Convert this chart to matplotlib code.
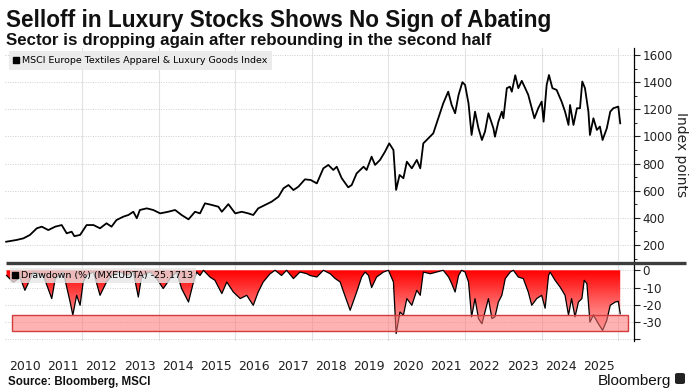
import numpy as np
import matplotlib
matplotlib.use("Agg")
import matplotlib.pyplot as plt
from matplotlib.colors import LinearSegmentedColormap
from matplotlib.lines import Line2D
from matplotlib.patches import Rectangle, FancyBboxPatch
from matplotlib.ticker import MultipleLocator, FixedLocator

# MSCI Europe Textiles Apparel & Luxury Goods Index
index_years = [
    2010.02, 2010.29, 2010.47, 2010.64, 2010.82, 2010.95, 2011.12, 2011.30, 2011.47, 2011.60,
    2011.73, 2011.80, 2011.95, 2012.12, 2012.30, 2012.47, 2012.64, 2012.77, 2012.90, 2013.08,
    2013.21, 2013.34, 2013.43, 2013.51, 2013.69, 2013.86, 2014.04, 2014.25, 2014.43, 2014.60,
    2014.78, 2014.95, 2015.08, 2015.21, 2015.39, 2015.56, 2015.65, 2015.82, 2016.00, 2016.17,
    2016.34, 2016.47, 2016.60, 2016.78, 2016.95, 2017.13, 2017.26, 2017.39, 2017.52, 2017.65,
    2017.82, 2017.97, 2018.13, 2018.30, 2018.43, 2018.56, 2018.65, 2018.78, 2018.95, 2019.04,
    2019.17, 2019.35, 2019.43, 2019.56, 2019.65, 2019.78, 2019.91, 2020.02, 2020.13, 2020.20,
    2020.29, 2020.39, 2020.48, 2020.61, 2020.74, 2020.83, 2020.91, 2021.04, 2021.17, 2021.30,
    2021.43, 2021.56, 2021.65, 2021.74, 2021.83, 2021.93, 2022.00, 2022.09, 2022.17, 2022.26,
    2022.35, 2022.44, 2022.52, 2022.61, 2022.74, 2022.78, 2022.87, 2022.96, 2023.00, 2023.09,
    2023.17, 2023.22, 2023.31, 2023.39, 2023.48, 2023.57, 2023.65, 2023.74, 2023.81, 2023.91,
    2024.00, 2024.05, 2024.13, 2024.19, 2024.28, 2024.39, 2024.52, 2024.61, 2024.70, 2024.74,
    2024.83, 2024.92, 2025.00, 2025.06, 2025.13, 2025.22, 2025.26, 2025.35, 2025.44, 2025.52,
    2025.59, 2025.70, 2025.79, 2025.87, 2026.00, 2026.05,
]
index_values = [
    224, 237, 249, 274, 323, 335, 310, 335, 347, 286,
    298, 265, 274, 347, 347, 323, 360, 335, 384, 409,
    421, 445, 397, 458, 470, 458, 433, 445, 458, 421,
    389, 445, 433, 507, 495, 482, 445, 501, 433, 445,
    433, 421, 470, 495, 519, 556, 618, 642, 605, 630,
    684, 679, 654, 765, 790, 753, 777, 692, 625, 642,
    728, 777, 753, 851, 790, 827, 888, 949, 900, 606,
    716, 692, 814, 765, 827, 765, 949, 986, 1023, 1134,
    1244, 1330, 1232, 1171, 1306, 1400, 1380, 1244, 1011, 1183,
    1060, 974, 1036, 1171, 1060, 998, 1109, 1183, 1134, 1356,
    1367, 1330, 1451, 1356, 1410, 1356, 1306, 1208, 1134, 1208,
    1257, 1109, 1380, 1453, 1356, 1343, 1257, 1183, 1085, 1232,
    1085, 1208, 1208, 1405, 1356, 1183, 1011, 1134, 1048, 1073,
    974, 1060, 1183, 1208, 1220, 1097,
]

# Drawdown (%) (MXEUDTA)
dd_years = [
    2010.03, 2010.21, 2010.38, 2010.51, 2010.73, 2010.99, 2011.21, 2011.30, 2011.51, 2011.60,
    2011.69, 2011.76, 2011.86, 2011.95, 2012.03, 2012.12, 2012.30, 2012.47, 2012.64, 2012.82,
    2012.99, 2013.17, 2013.34, 2013.47, 2013.56, 2013.78, 2013.95, 2014.12, 2014.30, 2014.47,
    2014.60, 2014.78, 2014.91, 2014.99, 2015.08, 2015.17, 2015.34, 2015.47, 2015.65, 2015.78,
    2015.95, 2016.13, 2016.30, 2016.47, 2016.60, 2016.73, 2016.91, 2017.04, 2017.21, 2017.34,
    2017.52, 2017.69, 2017.87, 2017.95, 2018.13, 2018.30, 2018.48, 2018.61, 2018.74, 2018.82,
    2019.00, 2019.17, 2019.30, 2019.39, 2019.48, 2019.56, 2019.69, 2019.87, 2020.00, 2020.13,
    2020.20, 2020.30, 2020.39, 2020.48, 2020.61, 2020.74, 2020.83, 2020.91, 2021.09, 2021.26,
    2021.43, 2021.57, 2021.65, 2021.74, 2021.83, 2021.91, 2022.00, 2022.09, 2022.17, 2022.26,
    2022.35, 2022.44, 2022.52, 2022.61, 2022.70, 2022.78, 2022.87, 2022.96, 2023.05, 2023.18,
    2023.26, 2023.39, 2023.52, 2023.65, 2023.74, 2023.87, 2024.00, 2024.09, 2024.18, 2024.22,
    2024.35, 2024.48, 2024.61, 2024.70, 2024.78, 2024.87, 2024.96, 2025.05, 2025.11, 2025.18,
    2025.26, 2025.35, 2025.48, 2025.59, 2025.70, 2025.79, 2025.92, 2026.00, 2026.05,
]
dd_values = [
    -3.0, -7.0, -4.0, -11.6, -1.0, -3.0, -16.4, -5.0, -1.0, -9.7,
    -18.4, -26.0, -14.5, -20.3, -6.8, -3.0, -1.0, -14.5, -6.8, -2.0,
    -1.0, -3.0, -1.0, -15.5, -3.0, -1.0, -4.8, -10.6, -4.8, -1.0,
    -10.6, -18.4, -6.8, -1.0, -3.0, 0.0, -3.9, -5.8, -13.5, -6.8,
    -12.6, -16.4, -14.5, -20.3, -12.6, -6.8, -2.0, 0.0, -3.0, 0.0,
    -4.8, -1.0, -2.0, -3.0, -3.9, 0.0, -2.0, -4.8, -6.8, -12.0,
    -23.2, -12.6, -3.9, -1.0, -3.0, -10.0, -3.9, -1.0, 0.0, -6.8,
    -36.7, -24.2, -26.0, -16.4, -20.3, -11.6, -14.5, -1.0, -2.0, -1.0,
    0.0, -3.9, -7.7, -12.6, -3.0, 0.0, -1.0, -6.8, -27.0, -16.4,
    -28.0, -31.0, -24.2, -16.4, -28.0, -27.0, -18.4, -14.5, -4.8, -1.0,
    0.0, -3.9, -4.8, -12.6, -20.3, -16.4, -14.5, -22.0, -3.0, -1.0,
    -5.8, -9.7, -14.5, -26.0, -16.4, -27.0, -18.4, -16.4, -5.8, -7.7,
    -30.0, -26.0, -31.0, -34.8, -29.0, -20.3, -18.4, -18.0, -25.2,
]
last_drawdown = -25.1713

year_labels = ["2010", "2011", "2012", "2013", "2014", "2015", "2016", "2017",
               "2018", "2019", "2020", "2021", "2022", "2023", "2024", "2025"]
year_label_pos = [2010.5 + i for i in range(len(year_labels))]

band_low, band_high = -35, -26

W, H = 691, 391
fig = plt.figure(figsize=(W / 100, H / 100), dpi=100)
fig.patch.set_facecolor("white")


def fx(px):
    return px / W


def fy(py):
    return 1 - py / H


x_left, x_right = 2010.0, 2026.41
ax1 = fig.add_axes([fx(5.4), fy(261), fx(634 - 5.4), (261 - 48) / H])
ax2 = fig.add_axes([fx(5.4), fy(341), fx(634 - 5.4), (341 - 264) / H])

grid_years = list(range(2012, 2027, 2))

# --- top panel: index level ---
ax1.plot(index_years, index_values, color="black", lw=1.3, zorder=3)
ax1.set_xlim(x_left, x_right)
ax1.set_ylim(82, 1652)
ax1.yaxis.tick_right()
ax1.yaxis.set_label_position("right")
ax1.set_yticks([200, 400, 600, 800, 1000, 1200, 1400, 1600])
ax1.yaxis.set_minor_locator(MultipleLocator(100))
ax1.xaxis.set_major_locator(FixedLocator(grid_years))
ax1.tick_params(axis="x", length=0, labelbottom=False)
ax1.tick_params(axis="y", which="major", length=4, width=0.8, labelsize=8.6, pad=2, colors="#222222")
ax1.tick_params(axis="y", which="minor", length=2, width=0.6)
ax1.set_ylabel("Index points", rotation=270, fontsize=10, color="#222222", va="center")
ax1.yaxis.set_label_coords(1.075, 0.5)
for s in ["top", "left", "bottom"]:
    ax1.spines[s].set_visible(False)
ax1.spines["right"].set_linewidth(0.9)
ax1.grid(axis="x", color="#e2e2e2", lw=0.8, ls="-")
ax1.grid(axis="y", color="#cfcfcf", lw=0.7, ls=(0, (1, 1.5)))
ax1.set_axisbelow(True)

h1 = Line2D([], [], marker="s", color="black", ls="none", markersize=4.5)
leg1 = ax1.legend([h1], ["MSCI Europe Textiles Apparel & Luxury Goods Index"],
                  loc="upper left", frameon=True, fancybox=False, fontsize=6.8,
                  handlelength=0.6, handletextpad=0.3, borderpad=0.5,
                  borderaxespad=0.35, bbox_to_anchor=(0.0, 1.0))
leg1.get_frame().set_facecolor("#ebebeb")
leg1.get_frame().set_edgecolor("none")
leg1.get_frame().set_alpha(1)

# --- bottom panel: drawdown ---
poly = ax2.fill_between(dd_years, dd_values, 0, facecolor="none", edgecolor="none")
cmap = LinearSegmentedColormap.from_list("dd", ["#ff0000", "#ff6a6a", "#ffc4c4"])
grad = np.linspace(0, 1, 256).reshape(-1, 1)
im = ax2.imshow(grad, extent=[x_left, x_right, -40, 0], origin="upper",
                aspect="auto", cmap=cmap, zorder=1)
im.set_clip_path(poly.get_paths()[0], transform=ax2.transData)
ax2.plot(dd_years, dd_values, color="black", lw=0.9, zorder=3)
ax2.add_patch(Rectangle((2010.17, band_low), 2026.25 - 2010.17, band_high - band_low,
                        facecolor=(1.0, 0.45, 0.45, 0.55), edgecolor="#d23c3c",
                        lw=1.0, zorder=4))
ax2.set_xlim(x_left, x_right)
ax2.set_ylim(-41, 3.65)
ax2.yaxis.tick_right()
ax2.set_yticks([0, -10, -20, -30, -40])
ax2.set_yticklabels(["0", "-10", "-20", "-30", ""])
ax2.xaxis.set_major_locator(FixedLocator(year_label_pos))
ax2.set_xticklabels(year_labels)
ax2.xaxis.set_minor_locator(FixedLocator(grid_years))
ax2.tick_params(axis="x", which="both", length=0, labelsize=9, pad=14, colors="#222222")
ax2.tick_params(axis="y", length=4, width=0.8, labelsize=8.6, pad=2, colors="#222222")
for s in ["top", "left", "bottom"]:
    ax2.spines[s].set_visible(False)
ax2.spines["right"].set_linewidth(0.9)
ax2.grid(axis="x", which="minor", color="#e2e2e2", lw=0.8, ls="-")
ax2.grid(axis="y", color="#cfcfcf", lw=0.7, ls=(0, (1, 1.5)))
ax2.set_axisbelow(True)

h2 = Line2D([], [], marker="s", color="black", ls="none", markersize=4.5)
leg2 = ax2.legend([h2], [f"Drawdown (%) (MXEUDTA) {last_drawdown:.4f}"],
                  loc="upper left", frameon=True, fancybox=False, fontsize=6.8,
                  handlelength=0.6, handletextpad=0.3, borderpad=0.3,
                  borderaxespad=0.45, bbox_to_anchor=(0.0, 1.0))
leg2.get_frame().set_facecolor((0.9, 0.9, 0.9, 0.7))
leg2.get_frame().set_edgecolor("none")
leg2.set_zorder(6)

# thick separator between the panels
fig.add_artist(Line2D([fx(6), fx(686)], [fy(262.5), fy(262.5)], color="#3c3c3c",
                      lw=2.4, solid_capstyle="butt"))

# titles and footer
fig.text(fx(6), fy(27), "Selloff in Luxury Stocks Shows No Sign of Abating",
         fontsize=16.3, fontweight="bold", family="Liberation Sans", color="#111111")
fig.text(fx(6), fy(45), "Sector is dropping again after rebounding in the second half",
         fontsize=12.2, fontweight="bold", family="Liberation Sans", color="#111111")
fig.text(fx(8), fy(385), "Source: Bloomberg, MSCI", fontsize=8.3,
         fontweight="bold", family="Liberation Sans", color="#111111")
fig.text(fx(671), fy(385), "Bloomberg", fontsize=11, family="Liberation Sans",
         color="#111111", ha="right")
fig.add_artist(FancyBboxPatch((fx(675), fy(384)), fx(10), 11 / H,
                              boxstyle="round,pad=0,rounding_size=0.004",
                              facecolor="#222222", edgecolor="none"))

fig.savefig("out.png", dpi=100)
